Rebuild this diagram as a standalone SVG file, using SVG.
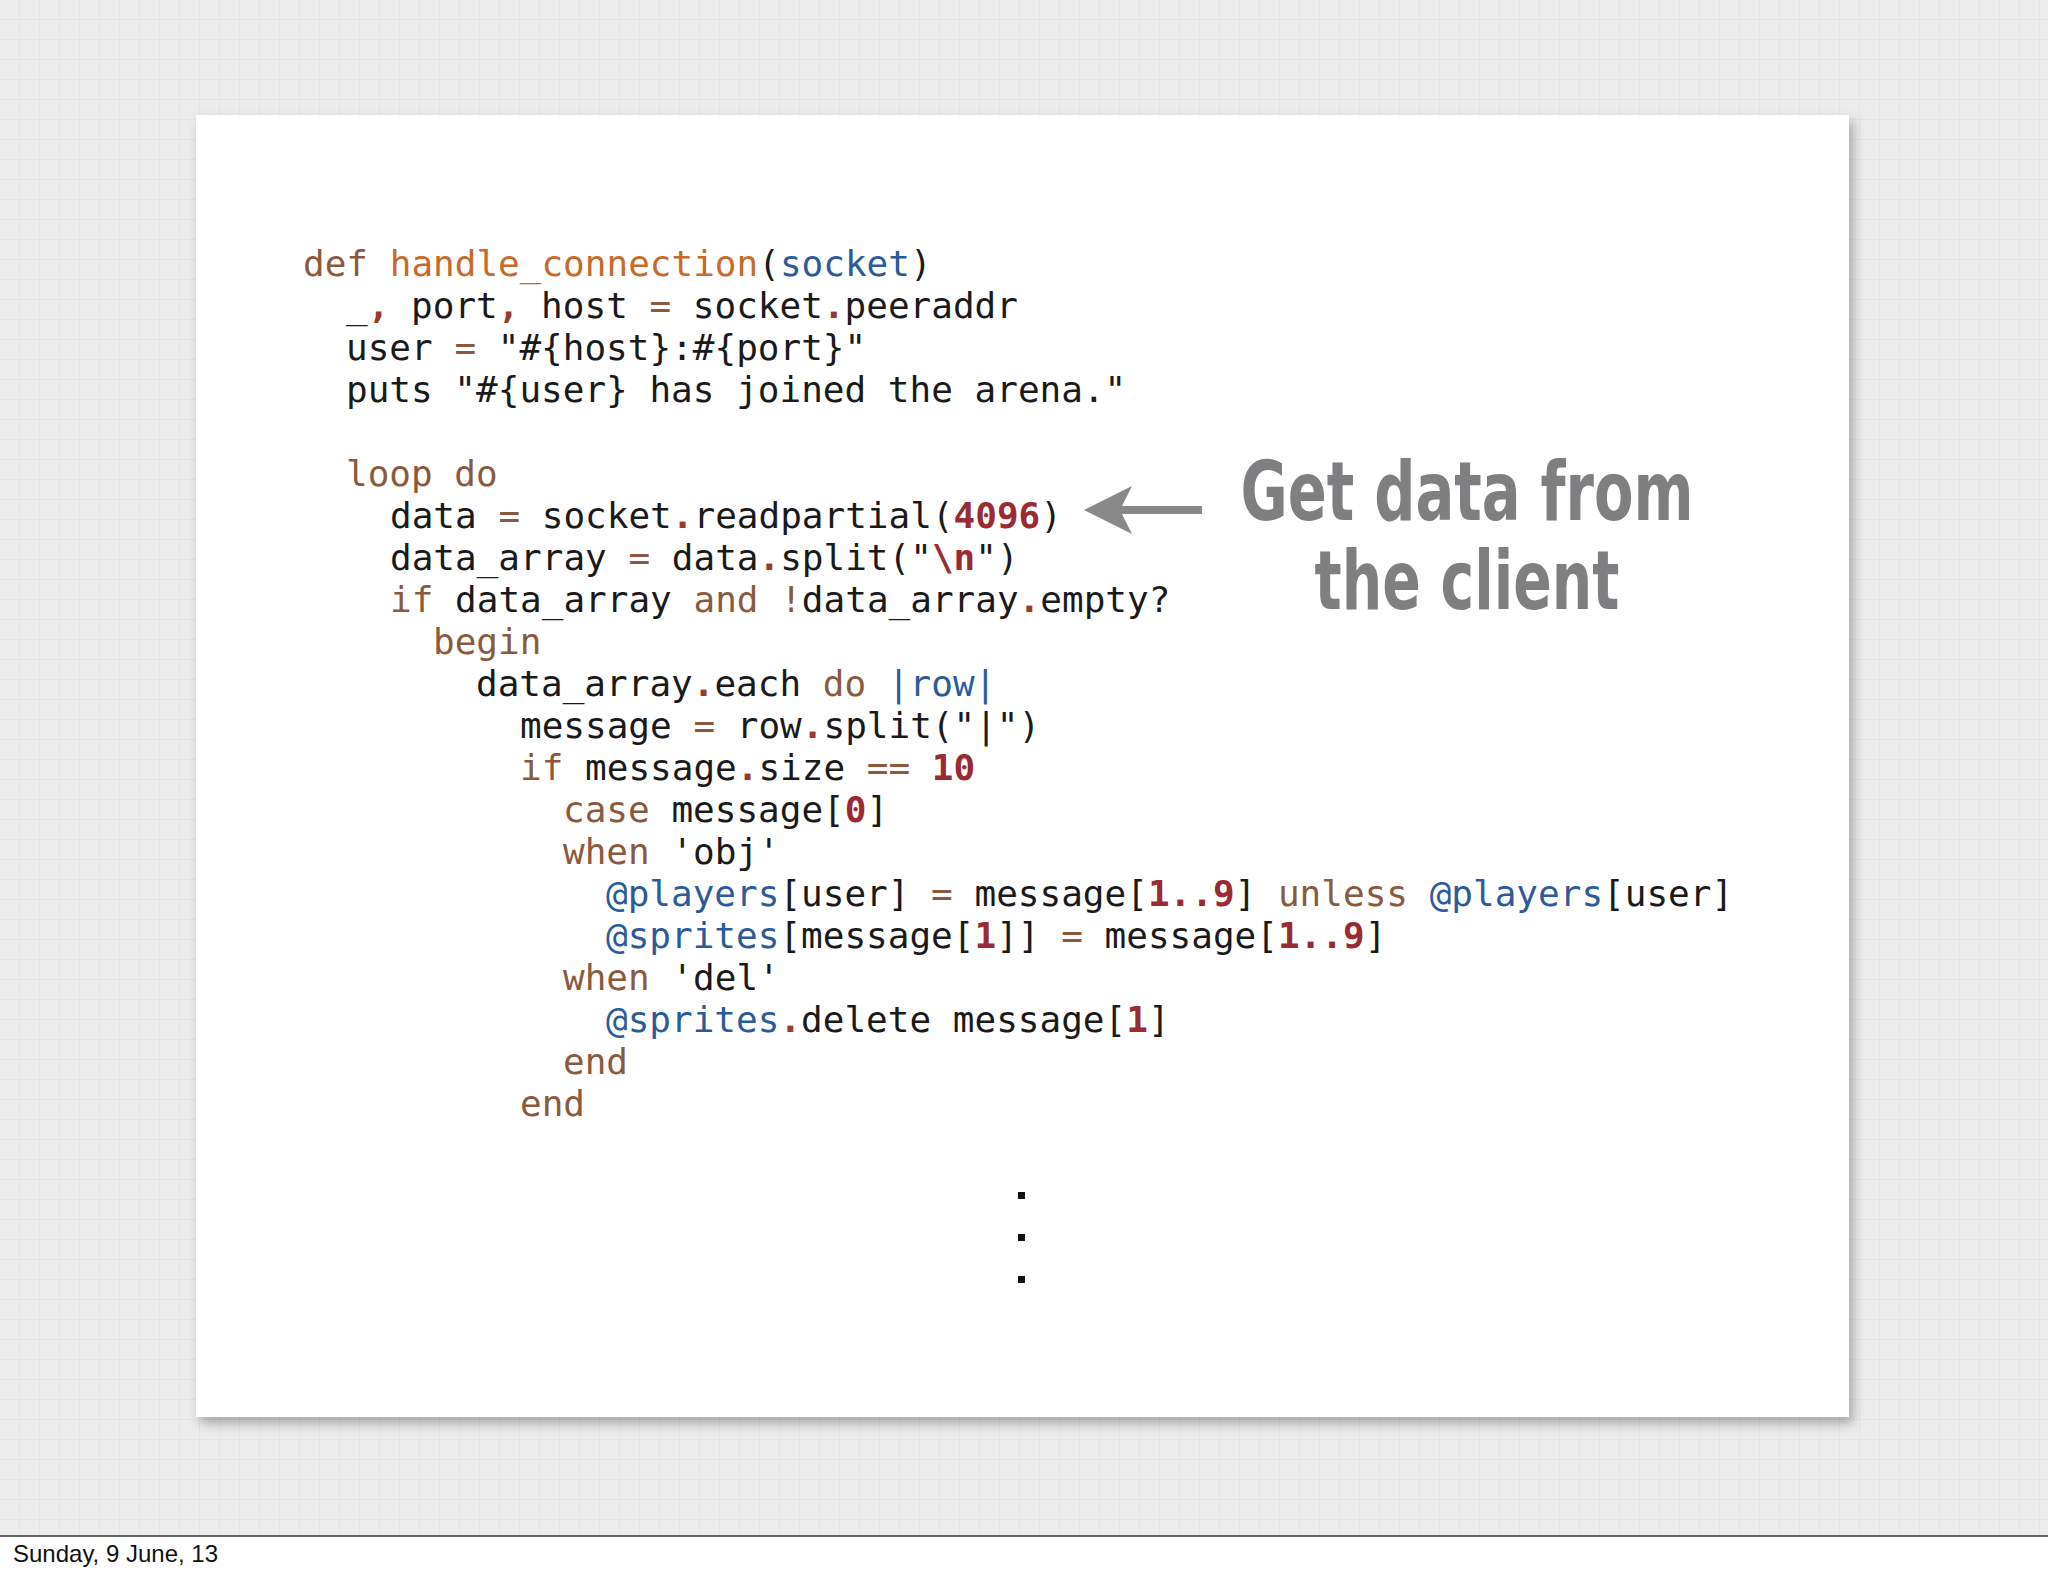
<svg xmlns="http://www.w3.org/2000/svg" width="2048" height="1576" viewBox="0 0 2048 1576">
<defs>
<pattern id="g" width="20" height="20" patternUnits="userSpaceOnUse"><rect width="20" height="20" fill="#ececec"/><path d="M20 0V20M0 20H20" stroke="#dcdcdc" stroke-width="1"/></pattern>
<filter id="sh" x="-5%" y="-5%" width="110%" height="110%"><feDropShadow dx="4" dy="6" stdDeviation="6" flood-color="#000" flood-opacity="0.3"/></filter>
<marker id="ah" markerWidth="6" markerHeight="6" refX="4" refY="3" orient="auto" markerUnits="strokeWidth"><path d="M0,0 L6,3 L0,6 L1.5,3 Z" fill="#888"/></marker>
<style>
.c{font-family:"DejaVu Sans Mono",monospace;font-size:36px;fill:#1a1a1a}
.k{fill:#8a5a3e}.f{fill:#c96a2a}.v{fill:#2d5b9a}.n{fill:#9a2a33;font-weight:bold}.p{fill:#9a3b2a;font-weight:bold}
.h{font-family:"DejaVu Sans Condensed","DejaVu Sans",sans-serif;font-weight:bold;font-size:82px;fill:#7f7f82}
</style>
</defs>
<rect width="2048" height="1536" fill="url(#g)"/>
<rect y="1536" width="2048" height="40" fill="#fff"/>
<line x1="0" y1="1536" x2="2048" y2="1536" stroke="#333" stroke-width="1.5"/>
<text x="13" y="1562" font-family="Liberation Sans,sans-serif" font-size="24" fill="#111">Sunday, 9 June, 13</text>
<g id="card"><rect x="196" y="115" width="1653" height="1302" fill="#fff" filter="url(#sh)"/></g>
<g id="code" class="c" xml:space="preserve">
<text x="303" y="276"><tspan class="k">def</tspan> <tspan class="f">handle_connection</tspan>(<tspan class="v">socket</tspan>)</text>
<text x="346" y="318">_<tspan class="p">,</tspan> port<tspan class="p">,</tspan> host <tspan class="k">=</tspan> socket<tspan class="p">.</tspan>peeraddr</text>
<text x="346" y="360">user <tspan class="k">=</tspan> "#{host}:#{port}"</text>
<text x="346" y="402">puts "#{user} has joined the arena."</text>
<text x="346" y="486"><tspan class="k">loop do</tspan></text>
<text x="390" y="528">data <tspan class="k">=</tspan> socket<tspan class="p">.</tspan>readpartial(<tspan class="n">4096</tspan>)</text>
<text x="390" y="570">data_array <tspan class="k">=</tspan> data<tspan class="p">.</tspan>split("<tspan class="n">\n</tspan>")</text>
<text x="390" y="612"><tspan class="k">if</tspan> data_array <tspan class="k">and</tspan> <tspan class="k">!</tspan>data_array<tspan class="p">.</tspan>empty?</text>
<text x="433" y="654"><tspan class="k">begin</tspan></text>
<text x="476" y="696">data_array<tspan class="p">.</tspan>each <tspan class="k">do</tspan> <tspan class="v">|row|</tspan></text>
<text x="520" y="738">message <tspan class="k">=</tspan> row<tspan class="p">.</tspan>split("|")</text>
<text x="520" y="780"><tspan class="k">if</tspan> message<tspan class="p">.</tspan>size <tspan class="k">==</tspan> <tspan class="n">10</tspan></text>
<text x="563" y="822"><tspan class="k">case</tspan> message[<tspan class="n">0</tspan>]</text>
<text x="563" y="864"><tspan class="k">when</tspan> 'obj'</text>
<text x="606" y="906"><tspan class="v">@players</tspan>[user] <tspan class="k">=</tspan> message[<tspan class="n">1..9</tspan>] <tspan class="k">unless</tspan> <tspan class="v">@players</tspan>[user]</text>
<text x="606" y="948"><tspan class="v">@sprites</tspan>[message[<tspan class="n">1</tspan>]] <tspan class="k">=</tspan> message[<tspan class="n">1..9</tspan>]</text>
<text x="563" y="990"><tspan class="k">when</tspan> 'del'</text>
<text x="606" y="1032"><tspan class="v">@sprites</tspan><tspan class="p">.</tspan>delete message[<tspan class="n">1</tspan>]</text>
<text x="563" y="1074"><tspan class="k">end</tspan></text>
<text x="520" y="1116"><tspan class="k">end</tspan></text>
</g>
<g id="dots" fill="#111"><rect x="1018" y="1192" width="7" height="7"/><rect x="1018" y="1234" width="7" height="7"/><rect x="1018" y="1276" width="7" height="7"/></g>
<g id="connectors"><line x1="1202" y1="510" x2="1100" y2="510" stroke="#888" stroke-width="8" marker-end="url(#ah)"/></g>
<g id="note">
<text class="h" x="1467" y="520" text-anchor="middle" textLength="453" lengthAdjust="spacingAndGlyphs">Get data from</text>
<text class="h" x="1467" y="609" text-anchor="middle" textLength="305" lengthAdjust="spacingAndGlyphs">the client</text>
</g>
</svg>
